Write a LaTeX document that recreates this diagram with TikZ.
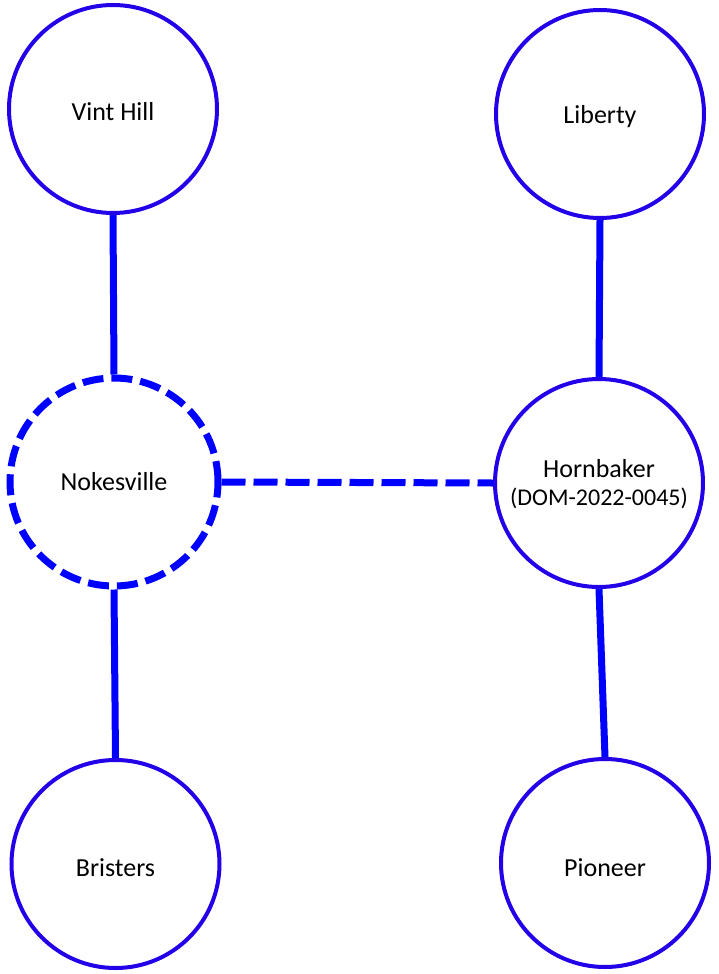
\documentclass[tikz,border=0pt]{standalone}
\usepackage{fontspec}
\setmainfont{Carlito}
\definecolor{ringblue}{HTML}{2200E8}
\definecolor{linkblue}{HTML}{0000FF}
% lower a label inside its node without changing the box it reports
\newcommand{\lowered}[2]{\raisebox{-#1}[\height][\depth]{#2}}
\begin{document}
\begin{tikzpicture}[x=1pt,y=-1pt,
  site/.style={circle, draw=ringblue, line width=4pt, fill=white,
    minimum size=208pt, inner sep=0pt, align=center,
    font=\fontsize{26}{30}\selectfont},
  plannedsite/.style={site, draw=linkblue, line width=7pt,
    dash pattern=on 21pt off 8pt},
  link/.style={draw=linkblue, line width=7pt},
  plannedlink/.style={link, dash pattern=on 24pt off 8pt}]
  \useasboundingbox (0,0) rectangle (718,974);

  % substations
  \node[site] (vh) at (113,109) {\lowered{3pt}{Vint Hill}};
  \node[site] (lb) at (600,114) {\lowered{3pt}{Liberty}};
  \node[plannedsite] (nk) at (114,482) {Nokesville};
  \node[site] (hb) at (599,483) {\lowered{2pt}{\begin{tabular}{@{}c@{}}Hornbaker\\[-2pt]{\fontsize{24}{28}\selectfont(DOM-2022-0045)}\end{tabular}}};
  \node[site] (br) at (115.5,864) {\lowered{4pt}{Bristers}};
  \node[site] (pn) at (605,863) {\lowered{5pt}{Pioneer}};

  % transmission lines
  \draw[link] (vh.south) -- (nk.north);
  \draw[link] (lb.south) -- (hb.north);
  \draw[link] (nk.south) -- (br.north);
  \draw[link] (hb.south) -- (pn.north);
  \draw[plannedlink] (nk.east) -- (hb.west);
\end{tikzpicture}
\end{document}
